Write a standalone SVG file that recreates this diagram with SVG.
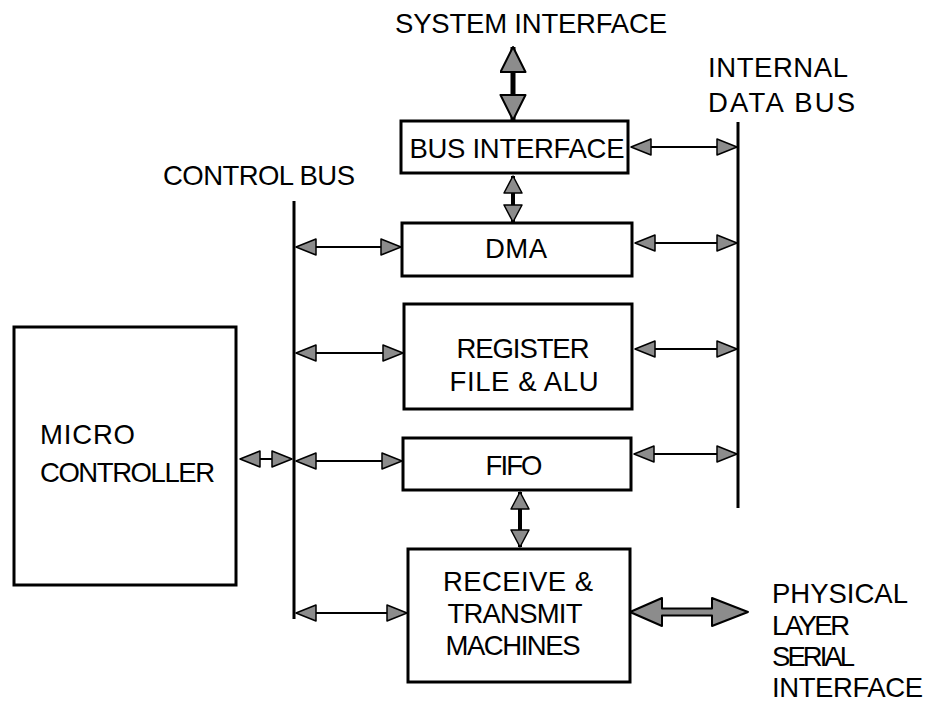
<svg xmlns="http://www.w3.org/2000/svg" width="926" height="704" viewBox="0 0 926 704">
<style>
  .box { fill: #fff; stroke: #000; stroke-width: 3; }
  .bus { stroke: #000; stroke-width: 3; fill: none; }
  .t { font-family: "Liberation Sans", Arial, sans-serif; font-size: 27.5px; fill: #000; }
  .m { text-anchor: middle; }
  .sh { stroke: #000; stroke-width: 2; fill: none; }
  .shm { stroke: #000; stroke-width: 4; fill: none; }
  .shl { stroke: #000; stroke-width: 5; fill: none; }
  .big { fill: #8c8c8c; stroke: #000; stroke-width: 2; stroke-linejoin: round; }
</style>
<defs>
  <marker id="ah" markerUnits="userSpaceOnUse" markerWidth="22" markerHeight="18" refX="20" refY="8" orient="auto-start-reverse" viewBox="-1 -1 22 18">
    <path d="M0,0 L20,8 L0,16 Z" fill="#8c8c8c" stroke="#000" stroke-width="1.5" stroke-linejoin="round"/>
  </marker>
  <marker id="ahm" markerUnits="userSpaceOnUse" markerWidth="20" markerHeight="21" refX="17" refY="9" orient="auto-start-reverse" viewBox="-1 -1 20 21">
    <path d="M0,0 L17,9 L0,18 Z" fill="#8c8c8c" stroke="#000" stroke-width="1.5" stroke-linejoin="round"/>
  </marker>
  <marker id="ahl" markerUnits="userSpaceOnUse" markerWidth="28" markerHeight="28" refX="25" refY="12.5" orient="auto-start-reverse" viewBox="-1 -1 28 28">
    <path d="M0,0 L25,12.5 L0,25 Z" fill="#8c8c8c" stroke="#000" stroke-width="2" stroke-linejoin="round"/>
  </marker>
</defs>
<rect width="926" height="704" fill="#fff"/>

<g id="connectors">
  <line class="bus" x1="294" y1="201" x2="294" y2="619"/>
  <line class="bus" x1="738" y1="122" x2="738" y2="508"/>
  <line class="shl" x1="513" y1="47" x2="513" y2="120" marker-start="url(#ahl)" marker-end="url(#ahl)"/>
  <line class="shm" x1="513" y1="176" x2="513" y2="222" marker-start="url(#ahm)" marker-end="url(#ahm)"/>
  <line class="shm" x1="520" y1="492" x2="520" y2="547" marker-start="url(#ahm)" marker-end="url(#ahm)"/>
  <line class="sh" x1="631" y1="147" x2="737" y2="147" marker-start="url(#ah)" marker-end="url(#ah)"/>
  <line class="sh" x1="296" y1="247" x2="401" y2="247" marker-start="url(#ah)" marker-end="url(#ah)"/>
  <line class="sh" x1="635" y1="243" x2="737" y2="243" marker-start="url(#ah)" marker-end="url(#ah)"/>
  <line class="sh" x1="296" y1="353" x2="403" y2="353" marker-start="url(#ah)" marker-end="url(#ah)"/>
  <line class="sh" x1="635" y1="349" x2="737" y2="349" marker-start="url(#ah)" marker-end="url(#ah)"/>
  <line class="sh" x1="296" y1="461" x2="402" y2="461" marker-start="url(#ah)" marker-end="url(#ah)"/>
  <line class="sh" x1="634" y1="454" x2="737" y2="454" marker-start="url(#ah)" marker-end="url(#ah)"/>
  <line class="sh" x1="240" y1="459" x2="292" y2="459" marker-start="url(#ah)" marker-end="url(#ah)"/>
  <line class="sh" x1="296" y1="613" x2="407" y2="613" marker-start="url(#ah)" marker-end="url(#ah)"/>
  <polygon class="big" points="630,612 662,598 662,608.5 712,608.5 712,598 748,612 712,626 712,615.5 662,615.5 662,626"/>
</g>

<g id="system-interface-label">
  <text class="t" x="395" y="33" font-size="25" textLength="272">SYSTEM INTERFACE</text>
</g>
<g id="internal-data-bus-label">
  <text class="t" x="708" y="77" textLength="140">INTERNAL</text>
  <text class="t" x="708" y="112" textLength="147">DATA BUS</text>
</g>
<g id="control-bus-label">
  <text class="t" x="163" y="185" textLength="192">CONTROL BUS</text>
</g>
<g id="bus-interface">
  <rect class="box" x="401" y="121" width="227" height="52"/>
  <text class="t m" x="517" y="158" textLength="215">BUS INTERFACE</text>
</g>
<g id="dma">
  <rect class="box" x="402" y="223" width="230" height="53"/>
  <text class="t m" x="516" y="258" textLength="62">DMA</text>
</g>
<g id="register-file-alu">
  <rect class="box" x="404" y="304" width="228" height="105"/>
  <text class="t m" x="523" y="358" textLength="133">REGISTER</text>
  <text class="t m" x="524" y="391" textLength="149">FILE &amp; ALU</text>
</g>
<g id="fifo">
  <rect class="box" x="403" y="438" width="228" height="52"/>
  <text class="t m" x="514" y="475" textLength="57">FIFO</text>
</g>
<g id="receive-transmit">
  <rect class="box" x="408" y="549" width="222" height="133"/>
  <text class="t m" x="518" y="591" textLength="150">RECEIVE &amp;</text>
  <text class="t m" x="515" y="623" textLength="135">TRANSMIT</text>
  <text class="t m" x="513" y="655" textLength="135">MACHINES</text>
</g>
<g id="micro-controller">
  <rect class="box" x="14" y="327" width="222" height="258"/>
  <text class="t" x="40" y="444" textLength="95">MICRO</text>
  <text class="t" x="40" y="482" textLength="175">CONTROLLER</text>
</g>
<g id="physical-layer-label">
  <text class="t" x="772" y="603" textLength="136">PHYSICAL</text>
  <text class="t" x="772" y="635" textLength="78">LAYER</text>
  <text class="t" x="772" y="666" textLength="83">SERIAL</text>
  <text class="t" x="772" y="697" textLength="151">INTERFACE</text>
</g>
</svg>
